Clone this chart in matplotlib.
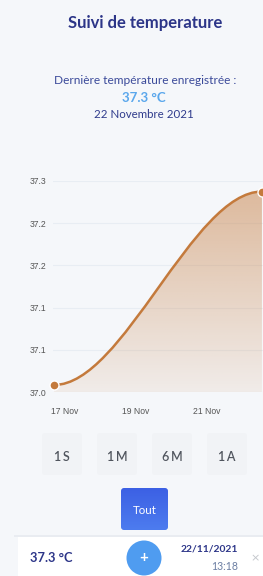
import matplotlib
matplotlib.use("Agg")
import matplotlib.pyplot as plt
import matplotlib.dates as mdates
from matplotlib.path import Path
from matplotlib.patches import PathPatch, FancyBboxPatch, Circle, Rectangle
import numpy as np
from datetime import datetime

# data
times = [datetime(2021, 11, 16, 17, 0), datetime(2021, 11, 22, 13, 18)]
temps = [37.01, 37.285]
ytick_vals = [37.0, 37.06, 37.12, 37.18, 37.24, 37.3]
xtick_dates = [datetime(2021, 11, 17), datetime(2021, 11, 19), datetime(2021, 11, 21)]
periods = ["1S", "1M", "6M", "1A"]
last_temp = "37.3 °C"
last_day = "22 Novembre 2021"
last_date = "22/11/2021"
last_time = "13:18"

W, H = 263, 576
bg = "#f5f7fa"
navy = "#2c3588"
line_c = "#c47a3c"

fig = plt.figure(figsize=(W / 100, H / 100), dpi=100, facecolor=bg)

# pixel overlay for the app chrome
ui = fig.add_axes([0, 0, 1, 1], zorder=0)
ui.set_xlim(0, W)
ui.set_ylim(H, 0)
ui.axis("off")

ui.text(145, 23, "Suivi de temperature", family="Lato", weight="bold", fontsize=12,
        color=navy, ha="center", va="center")
ui.text(145, 81, "Dernière température enregistrée :", family="Lato", fontsize=8.6,
        color="#3b4a9a", ha="center", va="center")
ui.text(144, 98, last_temp, family="Lato", weight="bold", fontsize=9.5,
        color="#5aa7ec", ha="center", va="center")
ui.text(144, 115, last_day, family="Lato", fontsize=8.3,
        color="#2f3b8c", ha="center", va="center")

# period buttons
for i, p in enumerate(periods):
    cx = 62 + i * 55
    ui.add_patch(FancyBboxPatch((cx - 20, 433), 40, 42, boxstyle="round,pad=0,rounding_size=3",
                                fc="#f1f3f6", ec="none"))
    ui.text(cx, 457, "\u2009".join(p), family="Lato", weight="semibold", fontsize=9,
            color="#50555e", ha="center", va="center")

# "Tout" button with a slight gradient
grad = np.linspace(0, 1, 50).reshape(-1, 1)
tout = ui.imshow(grad, cmap=matplotlib.colors.LinearSegmentedColormap.from_list(
    "b", ["#3c60e4", "#4d7cef"]), extent=(121, 168, 530, 488), aspect="auto", zorder=2)
tout_clip = FancyBboxPatch((121, 488), 47, 42, boxstyle="round,pad=0,rounding_size=3",
                           fc="none", ec="none", transform=ui.transData)
ui.add_patch(tout_clip)
tout.set_clip_path(tout_clip)
ui.text(144.5, 510, "Tout", family="Lato", fontsize=8.3, color="white",
        ha="center", va="center", zorder=3)

# bottom bar
ui.add_patch(Rectangle((14, 535), 260, 2, fc="#e9ecf1", ec="none", zorder=1))
ui.add_patch(Rectangle((18, 537), 250, 45, fc="white", ec="none", zorder=2))
ui.text(30, 558, last_temp, family="Lato", weight="bold", fontsize=9.3, color=navy,
        ha="left", va="center", zorder=3)
ui.add_patch(Circle((144, 558), 17.5, fc="#4f9cf0", ec="none", zorder=3))
ui.text(144, 558, "+", family="Lato", weight="bold", fontsize=11, color="white",
        ha="center", va="center", zorder=4)
ui.text(238, 549, last_date, family="Lato", weight="bold", fontsize=7.4, color=navy,
        ha="right", va="center", zorder=3)
ui.text(238, 567, last_time, family="Lato", fontsize=7.6, color="#6c7fa3",
        ha="right", va="center", zorder=3)
ui.text(255, 558, "×", family="DejaVu Sans", fontsize=8, color="#c4c7cc",
        ha="center", va="center", zorder=3)

# temperature chart
ax = fig.add_axes([53 / W, 1 - 392 / H, 210 / W, 211 / H], zorder=1)
ax.set_facecolor("none")
x = mdates.date2num(times)
x0, x1 = x
y0, y1 = temps
dx = x1 - x0
verts = [(x0, y0), (x0 + dx / 3, y0), (x1 - dx / 3, y1), (x1, y1)]
curve = Path(verts, [Path.MOVETO, Path.CURVE4, Path.CURVE4, Path.CURVE4])
ymin, ymax = ytick_vals[0], ytick_vals[-1]
area = Path(verts + [(x1, ymin), (x0, ymin), (x0, y0)],
            [Path.MOVETO, Path.CURVE4, Path.CURVE4, Path.CURVE4,
             Path.LINETO, Path.LINETO, Path.CLOSEPOLY])

rgba = np.zeros((100, 1, 4))
rgba[..., :3] = matplotlib.colors.to_rgb("#c8834a")
rgba[:, 0, 3] = np.linspace(0.55, 0.1, 100)
img = ax.imshow(rgba, extent=(x0, x1, ymin, ymax), aspect="auto", origin="upper", zorder=2)
clip = PathPatch(area, fc="none", ec="none")
ax.add_patch(clip)
img.set_clip_path(clip)

ax.add_patch(PathPatch(curve, fc="none", ec=line_c, lw=1.8, zorder=3))
ax.plot(x, temps, "o", ms=6.5, mfc=line_c, mec="white", mew=1, zorder=4, clip_on=False)

pad = 0.03
ax.set_xlim(x0 - pad, x1 + pad)
ax.set_ylim(ymin, ymax)
ax.set_yticks(ytick_vals)
ax.set_yticklabels(["%.1f" % v for v in ytick_vals])
ax.set_xticks(mdates.date2num(xtick_dates))
ax.set_xticklabels([d.strftime("%d Nov").lstrip("0") for d in xtick_dates])
ax.grid(axis="y", color="#e8edf3", lw=0.8, zorder=1)
ax.tick_params(axis="y", length=0, labelsize=6.2, labelcolor="#555555", pad=5)
ax.tick_params(axis="x", length=0, labelsize=6.2, labelcolor="#555555", pad=11)
for lab in ax.get_xticklabels() + ax.get_yticklabels():
    lab.set_family("Liberation Sans")
for s in ax.spines.values():
    s.set_visible(False)

fig.savefig("out.png", dpi=100, facecolor=bg)
